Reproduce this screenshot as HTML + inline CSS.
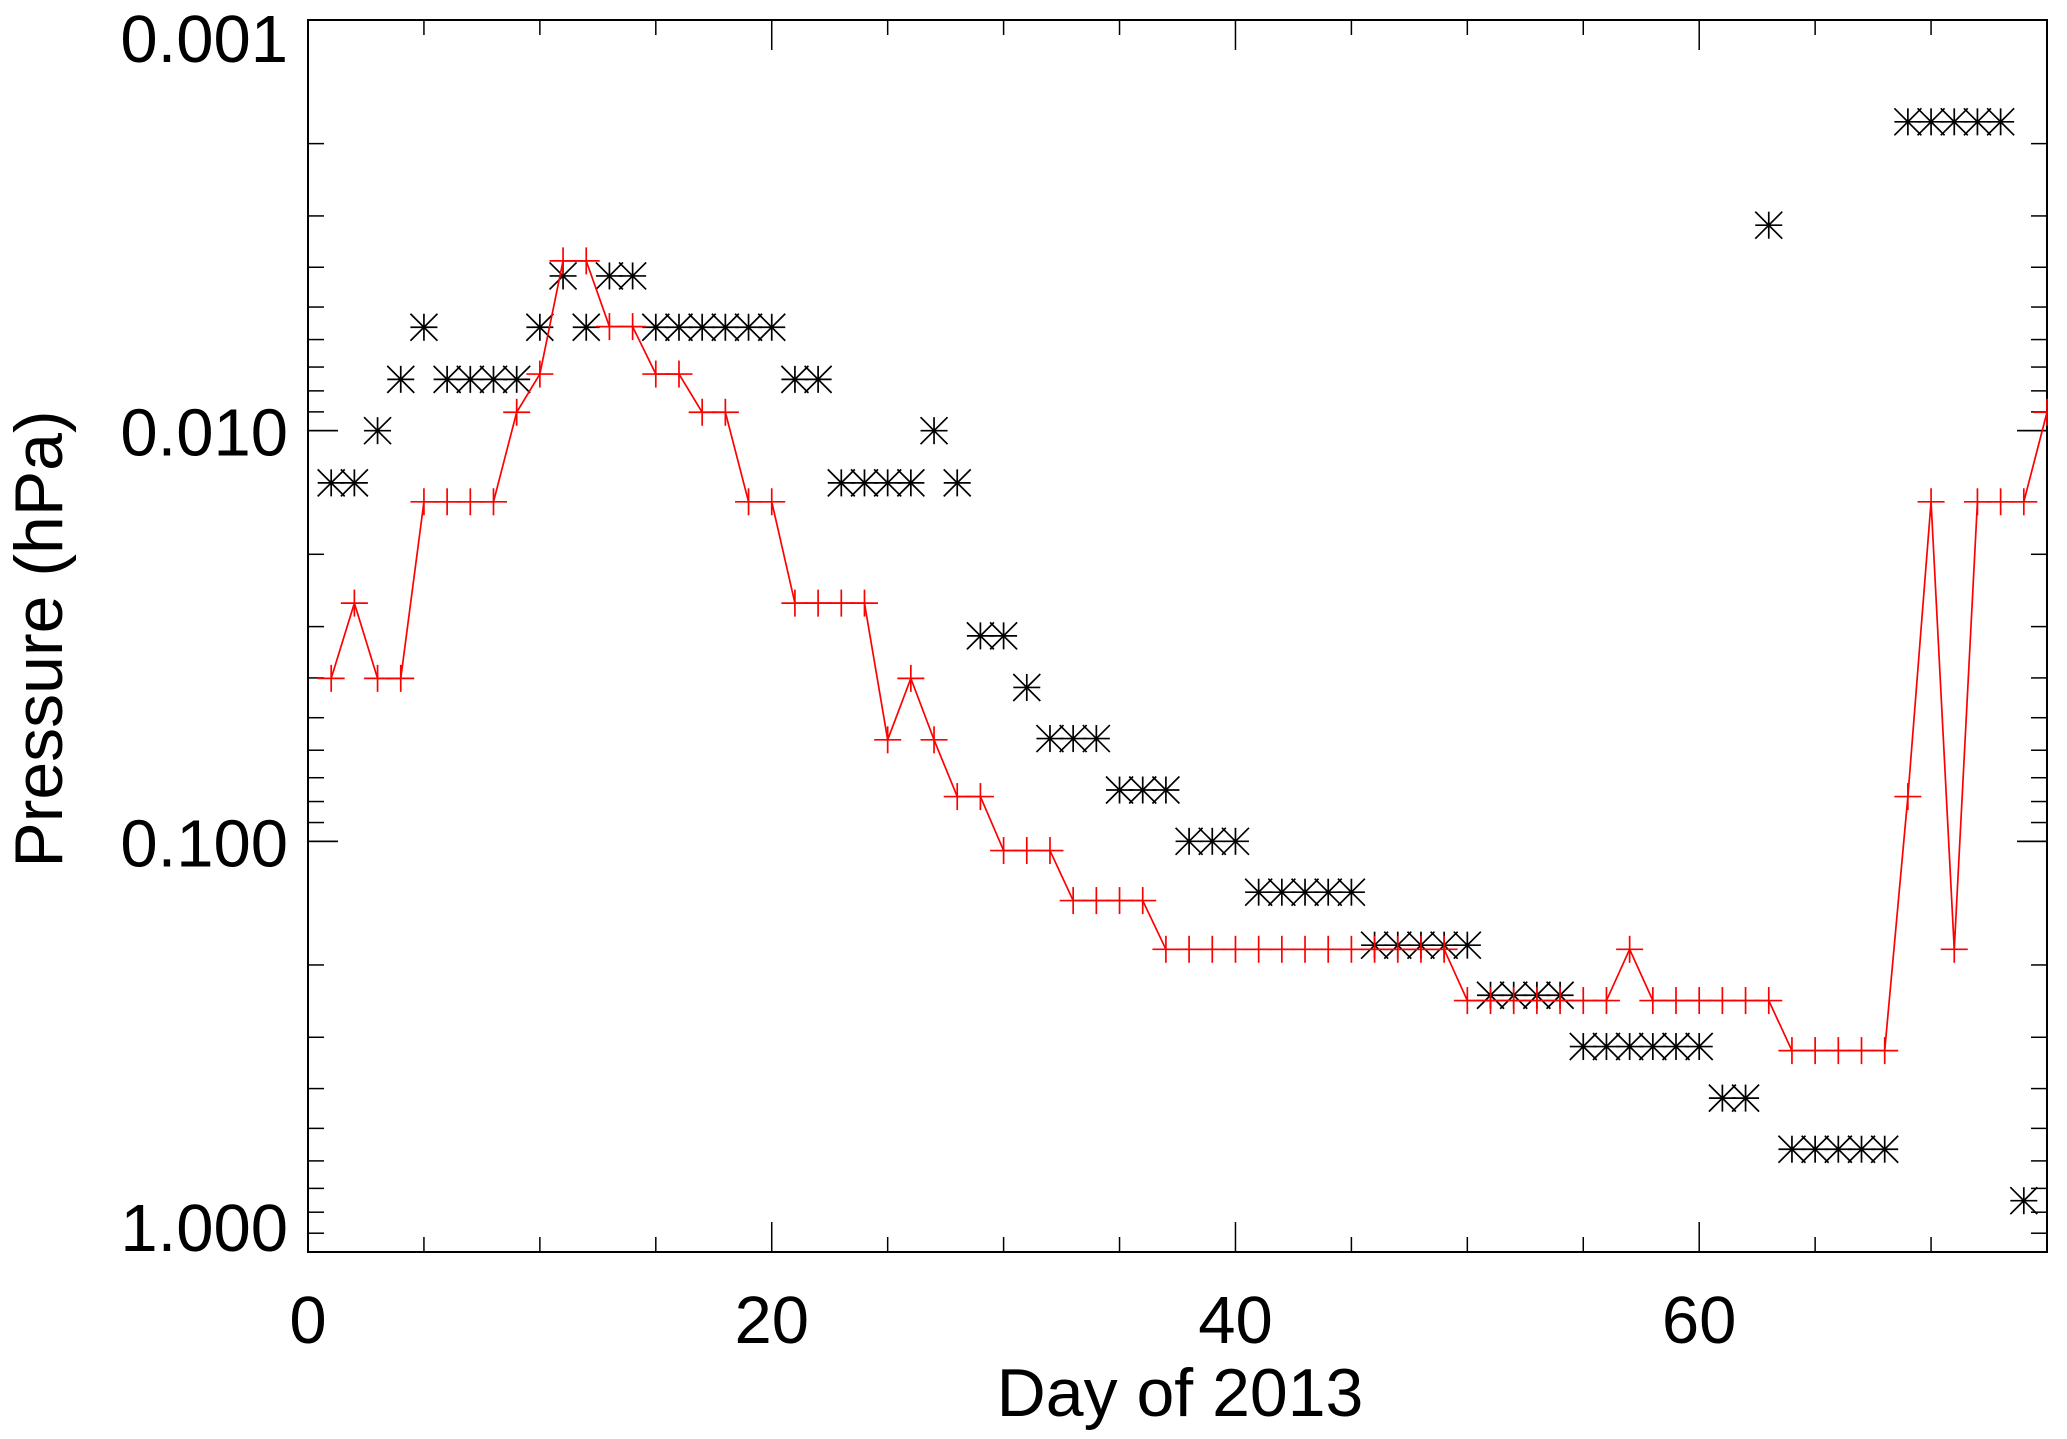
<!DOCTYPE html>
<html><head><meta charset="utf-8"><style>
html,body{margin:0;padding:0;background:#fff;}
svg{display:block;font-family:"Liberation Sans",Arial,sans-serif;}
</style></head><body>
<svg id="chart" width="2067" height="1439" viewBox="0 0 2067 1439">
<g id="axes"></g>
<g id="series-black"></g>
<g id="series-red"></g>
<text x="1180" y="1416" font-size="68" text-anchor="middle">Day of 2013</text>
<text x="0" y="0" font-size="68" text-anchor="middle" transform="translate(62,639) rotate(-90)">Pressure (hPa)</text>
</svg>
<script>
const blackDays = [1,2,3,4,5,6,7,8,9,10,11,12,13,14,15,16,17,18,19,20,21,22,23,24,25,26,27,28,29,30,31,32,33,34,35,36,37,38,39,40,41,42,43,44,45,46,47,48,49,50,51,52,53,54,55,56,57,58,59,60,61,62,63,64,65,66,67,68,69,70,71,72,73,74];
const blackPressure = [0.0134,0.0134,0.010,0.0075,0.0056,0.0075,0.0075,0.0075,0.0075,0.0056,0.0042,0.0056,0.0042,0.0042,0.0056,0.0056,0.0056,0.0056,0.0056,0.0056,0.0075,0.0075,0.0134,0.0134,0.0134,0.0134,0.010,0.0134,0.0316,0.0316,0.0422,0.0562,0.0562,0.0562,0.075,0.075,0.075,0.10,0.10,0.10,0.133,0.133,0.133,0.133,0.133,0.179,0.179,0.179,0.179,0.179,0.237,0.237,0.237,0.237,0.316,0.316,0.316,0.316,0.316,0.316,0.422,0.422,0.00316,0.562,0.562,0.562,0.562,0.562,0.00177,0.00177,0.00177,0.00177,0.00177,0.75];
const redDays = [1,2,3,4,5,6,7,8,9,10,11,12,13,14,15,16,17,18,19,20,21,22,23,24,25,26,27,28,29,30,31,32,33,34,35,36,37,38,39,40,41,42,43,44,45,46,47,48,49,50,51,52,53,54,55,56,57,58,59,60,61,62,63,64,65,66,67,68,69,70,71,72,73,74,75];
const redPressure = [0.0401,0.0263,0.0401,0.0401,0.0149,0.0149,0.0149,0.0149,0.00902,0.00728,0.00386,0.00386,0.00558,0.00558,0.00728,0.00728,0.00902,0.00902,0.0149,0.0149,0.0263,0.0263,0.0263,0.0263,0.0566,0.0401,0.0566,0.0778,0.0778,0.1053,0.1053,0.1053,0.1394,0.1394,0.1394,0.1394,0.1832,0.1832,0.1832,0.1832,0.1832,0.1832,0.1832,0.1832,0.1832,0.1832,0.1832,0.1832,0.1832,0.2442,0.2442,0.2442,0.2442,0.2442,0.2442,0.2442,0.1832,0.2442,0.2442,0.2442,0.2442,0.2442,0.2442,0.3233,0.3233,0.3233,0.3233,0.3233,0.0778,0.0149,0.1832,0.0149,0.0149,0.0149,0.00902];
const xTicks = [0,20,40,60];
const yTicks = [0.001,0.01,0.1,1];
const yTickLabels = ["0.001","0.010","0.100","1.000"];

const L=308,R=2047,T=20,B=1252;
const X0=0,X1=75,LOG0=-3,LOG1=0;
const NS='http://www.w3.org/2000/svg';
function xs(d){return L+(d-X0)/(X1-X0)*(R-L);}
function ys(p){return T+(Math.log10(p)-LOG0)/(LOG1-LOG0)*(B-T);}
function mk(tag,attrs,parent){const e=document.createElementNS(NS,tag);for(const k in attrs)e.setAttribute(k,attrs[k]);parent.appendChild(e);return e;}

const axes=document.getElementById('axes');
const frame=mk('rect',{x:L,y:T,width:R-L,height:B-T,fill:'none',stroke:'#000','stroke-width':2},axes);


for(let d=0;d<=75;d+=5){
  const len=(d%20===0)?30:15;
  const x=xs(d);
  const t1=mk('line',{x1:x,x2:x,y1:B,y2:B-len,stroke:'#000','stroke-width':1.5},axes);
  
  
  const t2=mk('line',{x1:x,x2:x,y1:T,y2:T+len,stroke:'#000','stroke-width':1.5},axes);
  
  
}
xTicks.forEach(d=>{
  const t=mk('text',{x:xs(d),y:1343,'font-size':67,'text-anchor':'middle'},axes);
  t.textContent=String(d);
  
  
});
for(let e=-3;e<0;e++){
  for(let m=1;m<=10;m++){
    const p=m*Math.pow(10,e);
    const y=ys(p);
    const len=(m===1||m===10)?30:16;
    const a=mk('line',{x1:L,x2:L+len,y1:y,y2:y,stroke:'#000','stroke-width':1.5},axes);
    
    
    const b=mk('line',{x1:R,x2:R-len,y1:y,y2:y,stroke:'#000','stroke-width':1.5},axes);
    
    
  }
}
yTicks.forEach((p,i)=>{
  let y=ys(p)+25;
  if(i===0)y=62; if(i===yTicks.length-1)y=1251;
  const t=mk('text',{x:288,y:y,'font-size':67,'text-anchor':'end'},axes);
  t.textContent=yTickLabels[i];
  
  
});

const gb=document.getElementById('series-black');
const h=13.5;
blackDays.forEach((d,i)=>{
  const cx=xs(d),cy=ys(blackPressure[i]);
  const g=mk('g',{stroke:'#000','stroke-width':1.7},gb);
  
  
  mk('line',{x1:cx-h,x2:cx+h,y1:cy,y2:cy},g);
  mk('line',{x1:cx,x2:cx,y1:cy-h,y2:cy+h},g);
  mk('line',{x1:cx-h,x2:cx+h,y1:cy-h,y2:cy+h},g);
  mk('line',{x1:cx-h,x2:cx+h,y1:cy+h,y2:cy-h},g);
});
const gr=document.getElementById('series-red');
const pts=redDays.map((d,i)=>xs(d)+','+ys(redPressure[i])).join(' ');
const pl=mk('polyline',{points:pts,fill:'none',stroke:'#ff0000','stroke-width':1.7},gr);


redDays.forEach((d,i)=>{
  const cx=xs(d),cy=ys(redPressure[i]);
  const g=mk('g',{stroke:'#ff0000','stroke-width':1.7},gr);
  
  
  mk('line',{x1:cx-h,x2:Math.min(cx+h,R),y1:cy,y2:cy},g);
  mk('line',{x1:cx,x2:cx,y1:cy-h,y2:cy+h},g);
});
</script>
</body></html>
